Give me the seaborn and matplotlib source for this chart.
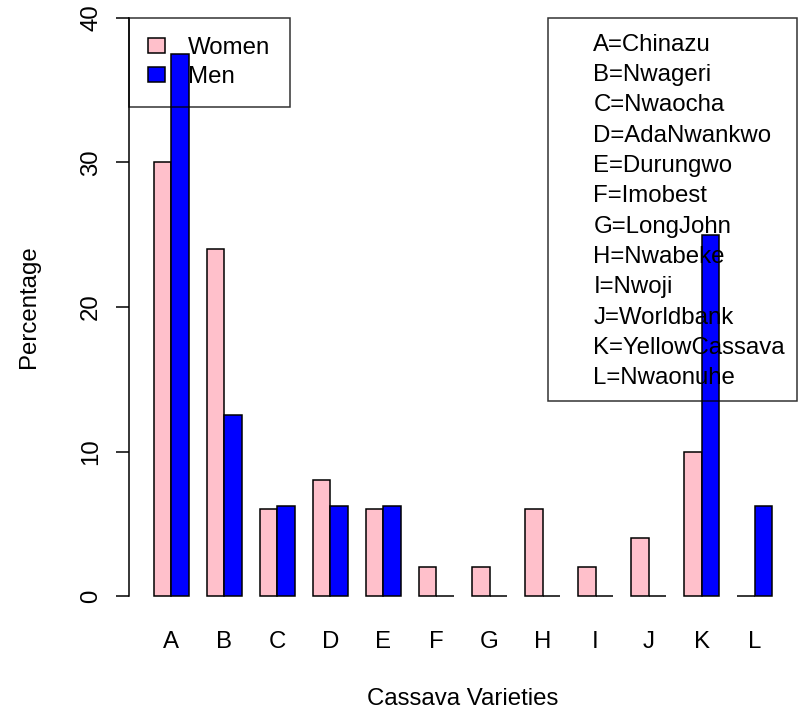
import matplotlib
matplotlib.use("Agg")
import matplotlib.pyplot as plt
from matplotlib.patches import Patch
import pandas as pd
import seaborn as sns

# Share of respondents (%) growing each cassava variety, by gender
varieties = ["A", "B", "C", "D", "E", "F", "G", "H", "I", "J", "K", "L"]
variety_names = ["Chinazu", "Nwageri", "Nwaocha", "AdaNwankwo", "Durungwo",
                 "Imobest", "LongJohn", "Nwabeke", "Nwoji", "Worldbank",
                 "YellowCassava", "Nwaonuhe"]
women = [30, 24, 6, 8, 6, 2, 2, 6, 2, 4, 10, 0]
men = [37.5, 12.5, 6.25, 6.25, 6.25, 0, 0, 0, 0, 0, 25, 6.25]
y_ticks = [0, 10, 20, 30, 40]

sns.set_style("white")
plt.rcParams["font.family"] = ["Liberation Sans", "DejaVu Sans"]
plt.rcParams["font.size"] = 17.28
plt.rcParams["text.color"] = "black"
plt.rcParams["axes.labelcolor"] = "black"
plt.rcParams["xtick.color"] = "black"
plt.rcParams["ytick.color"] = "black"

df = pd.DataFrame({
    "Variety": varieties * 2,
    "Gender": ["Women"] * len(varieties) + ["Men"] * len(varieties),
    "Percentage": women + men,
})

W, H = 798, 715
fig = plt.figure(figsize=(W / 100, H / 100), dpi=100)
left, right, top, bottom = 129, 797, 18, 596
ax = fig.add_axes([left / W, (H - bottom) / H, (right - left) / W, (bottom - top) / H])

lw = 1.1
colors = {"Women": "#FFC0CB", "Men": "#0000FF"}
sns.barplot(data=df, x="Variety", y="Percentage", hue="Gender",
            hue_order=["Women", "Men"], order=varieties, palette=colors,
            saturation=1, width=2 / 3, edgecolor="black", linewidth=lw,
            errorbar=None, legend=False, ax=ax)
for p in ax.patches:
    p.set_clip_on(False)

ax.set_xlim(-0.8, 11.8)
ax.set_ylim(0, 40)
ax.set_yticks(y_ticks)
ax.set_yticklabels([str(t) for t in y_ticks])

for side in ["top", "right", "bottom"]:
    ax.spines[side].set_visible(False)
ax.spines["left"].set_bounds(0, 40)
ax.spines["left"].set_linewidth(lw)
ax.spines["left"].set_color("black")

ax.tick_params(axis="y", length=9.4, width=lw, pad=10, labelrotation=90,
               colors="black", left=True)
for lab in ax.get_yticklabels():
    lab.set_va("center")
ax.tick_params(axis="x", length=0, pad=25, colors="black")

ax.set_xlabel("Cassava Varieties", labelpad=25.5, color="black")
ax.set_ylabel("Percentage", labelpad=29, color="black")

# Gender key (upper left)
gender_handles = [Patch(facecolor=colors[g], edgecolor="black", linewidth=lw)
                  for g in ["Women", "Men"]]
leg1 = ax.legend(gender_handles, ["Women", "Men"], loc="upper left",
                 bbox_to_anchor=(0, 1), borderaxespad=0, fancybox=False,
                 frameon=True, handlelength=0.71, handleheight=0.58,
                 handletextpad=0.96, borderpad=0.8, labelspacing=0.27,
                 labelcolor="black")
leg1.get_frame().set_edgecolor("black")
leg1.get_frame().set_facecolor("none")
leg1.get_frame().set_linewidth(lw)
ax.add_artist(leg1)

# Variety code key (upper right)
blank = [Patch(facecolor="none", edgecolor="none") for _ in varieties]
codes = [f"{c}={n}" for c, n in zip(varieties, variety_names)]
leg2 = ax.legend(blank, codes, loc="upper right", bbox_to_anchor=(1, 1),
                 borderaxespad=0, fancybox=False, frameon=True,
                 handlelength=0.5, handletextpad=0.875, borderpad=0.5,
                 handleheight=1.25, labelspacing=0.19, labelcolor="black")
leg2.get_frame().set_edgecolor("black")
leg2.get_frame().set_facecolor("none")
leg2.get_frame().set_linewidth(lw)

fig.savefig("out.png", dpi=100, facecolor="white")
